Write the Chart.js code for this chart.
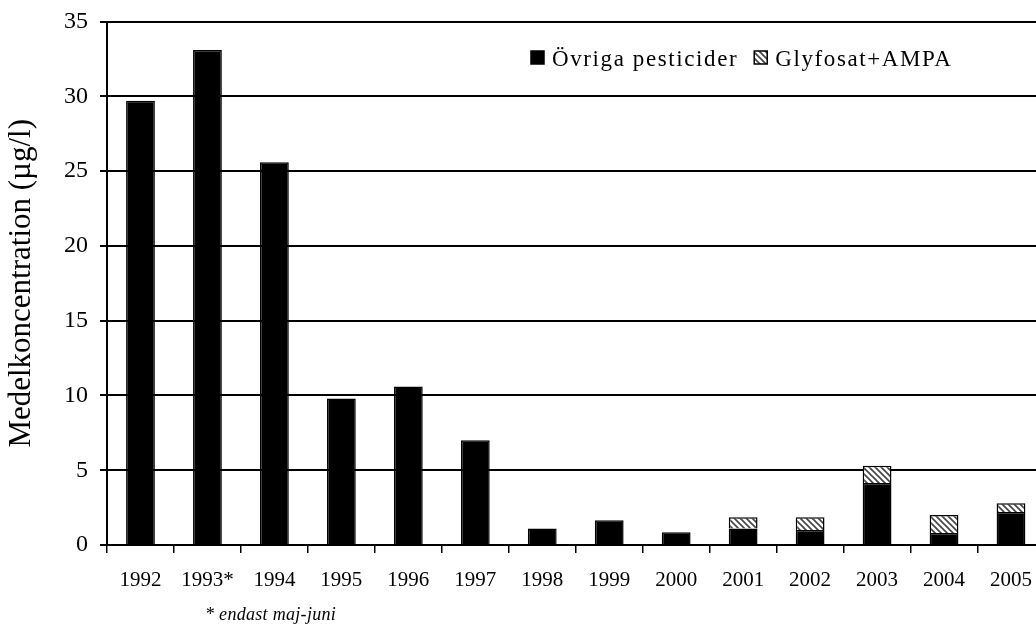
<!DOCTYPE html>
<html>
<head>
<meta charset="utf-8">
<script src="https://cdn.jsdelivr.net/npm/chart.js@4.4.0/dist/chart.umd.min.js"></script>
<style>
  html, body { margin: 0; padding: 0; background: #fff; overflow: hidden; }
  #wrap { position: relative; width: 1036px; height: 632px; overflow: hidden; }
  canvas { position: absolute; left: 0; top: 0; }
</style>
</head>
<body>
<div id="wrap">
  <canvas id="chart1" width="1047" height="632"></canvas>
</div>
<script>
// data
const years = ["1992", "1993*", "1994", "1995", "1996", "1997", "1998", "1999", "2000", "2001", "2002", "2003", "2004", "2005"];
const ovrigaPesticider = [29.7, 33.1, 25.6, 9.8, 10.6, 7.0, 1.1, 1.65, 0.85, 1.1, 1.0, 4.15, 0.8, 2.2];
const glyfosatAmpa = [0, 0, 0, 0, 0, 0, 0, 0, 0, 0.75, 0.85, 1.15, 1.2, 0.6];
const yTicks = [0, 5, 10, 15, 20, 25, 30, 35];

const serif = "'Liberation Serif', 'Times New Roman', serif";

// hatch pattern for Glyfosat+AMPA
function makeHatch() {
    const c = document.createElement("canvas");
    c.width = 6;
    c.height = 6;
    const g = c.getContext("2d");
    g.fillStyle = "#fff";
    g.fillRect(0, 0, 6, 6);
    g.strokeStyle = "#444";
    g.lineWidth = 1.6;
    g.beginPath();
    g.moveTo(-1, -1); g.lineTo(7, 7);
    g.moveTo(-1, 5); g.lineTo(1, 7);
    g.moveTo(5, -1); g.lineTo(7, 1);
    g.stroke();
    return g.createPattern(c, "repeat");
}

const ctx = document.getElementById("chart1").getContext("2d");
const hatch = makeHatch();

// legend drawn inside the plot, like the original
const insideLegend = {
    id: 'insideLegend',
    afterDraw: (chart) => {
        const c = chart.ctx;
        c.save();
        c.font = "23px " + serif;
        c.letterSpacing = "1.6px";
        c.textBaseline = "alphabetic";
        let x = 531;
        chart.data.datasets.forEach((ds) => {
            c.fillStyle = ds.backgroundColor;
            c.fillRect(x, 51, 13, 13);
            c.strokeStyle = "#000";
            c.lineWidth = 1.5;
            c.strokeRect(x, 51, 13, 13);
            c.fillStyle = "#000";
            c.fillText(ds.label, x + 21, 66);
            x += 21 + c.measureText(ds.label).width + 16;
        });
        // footnote under the 1993 label
        c.font = "italic 18px " + serif;
        c.letterSpacing = "0.3px";
        c.fillText("* endast maj-juni", 205, 620);
        c.restore();
    }
};

new Chart(ctx, {
    type: 'bar',
    data: {
        labels: years,
        datasets: [
            {
                label: 'Övriga pesticider',
                data: ovrigaPesticider,
                backgroundColor: '#000',
                borderColor: '#000',
                borderWidth: 1.5,
            },
            {
                label: 'Glyfosat+AMPA',
                data: glyfosatAmpa,
                backgroundColor: hatch,
                borderColor: '#000',
                borderWidth: 1.5,
            }
        ]
    },
    options: {
        responsive: false,
        animation: false,
        devicePixelRatio: 1,
        layout: { padding: { left: 0, top: 20, right: 0, bottom: 0 } },
        datasets: {
            bar: { barPercentage: 0.43, categoryPercentage: 1 }
        },
        plugins: {
            legend: { display: false },
            tooltip: { enabled: false }
        },
        scales: {
            x: {
                stacked: true,
                grid: {
                    drawOnChartArea: false,
                    color: '#000',
                    lineWidth: 1.5,
                    tickLength: 8
                },
                border: { color: '#000', width: 2 },
                ticks: {
                    color: '#000',
                    padding: 15,
                    maxRotation: 0,
                    autoSkip: false,
                    font: { family: serif, size: 21 }
                },
                afterFit: (scale) => { scale.height = 87; }
            },
            y: {
                stacked: true,
                min: 0,
                max: 35,
                afterBuildTicks: (scale) => {
                    scale.ticks = yTicks.map(v => ({ value: v }));
                },
                grid: {
                    color: '#000',
                    lineWidth: 2,
                    tickLength: 7
                },
                border: { color: '#000', width: 2 },
                ticks: {
                    color: '#000',
                    padding: 12,
                    font: { family: serif, size: 24, lineHeight: 0.8 }
                },
                title: {
                    display: true,
                    text: 'Medelkoncentration (µg/l)',
                    color: '#000',
                    padding: { top: 3, bottom: 6 },
                    font: { family: serif, size: 31 }
                },
                afterFit: (scale) => { scale.width = 107; }
            }
        }
    },
    plugins: [insideLegend]
});
</script>
</body>
</html>
